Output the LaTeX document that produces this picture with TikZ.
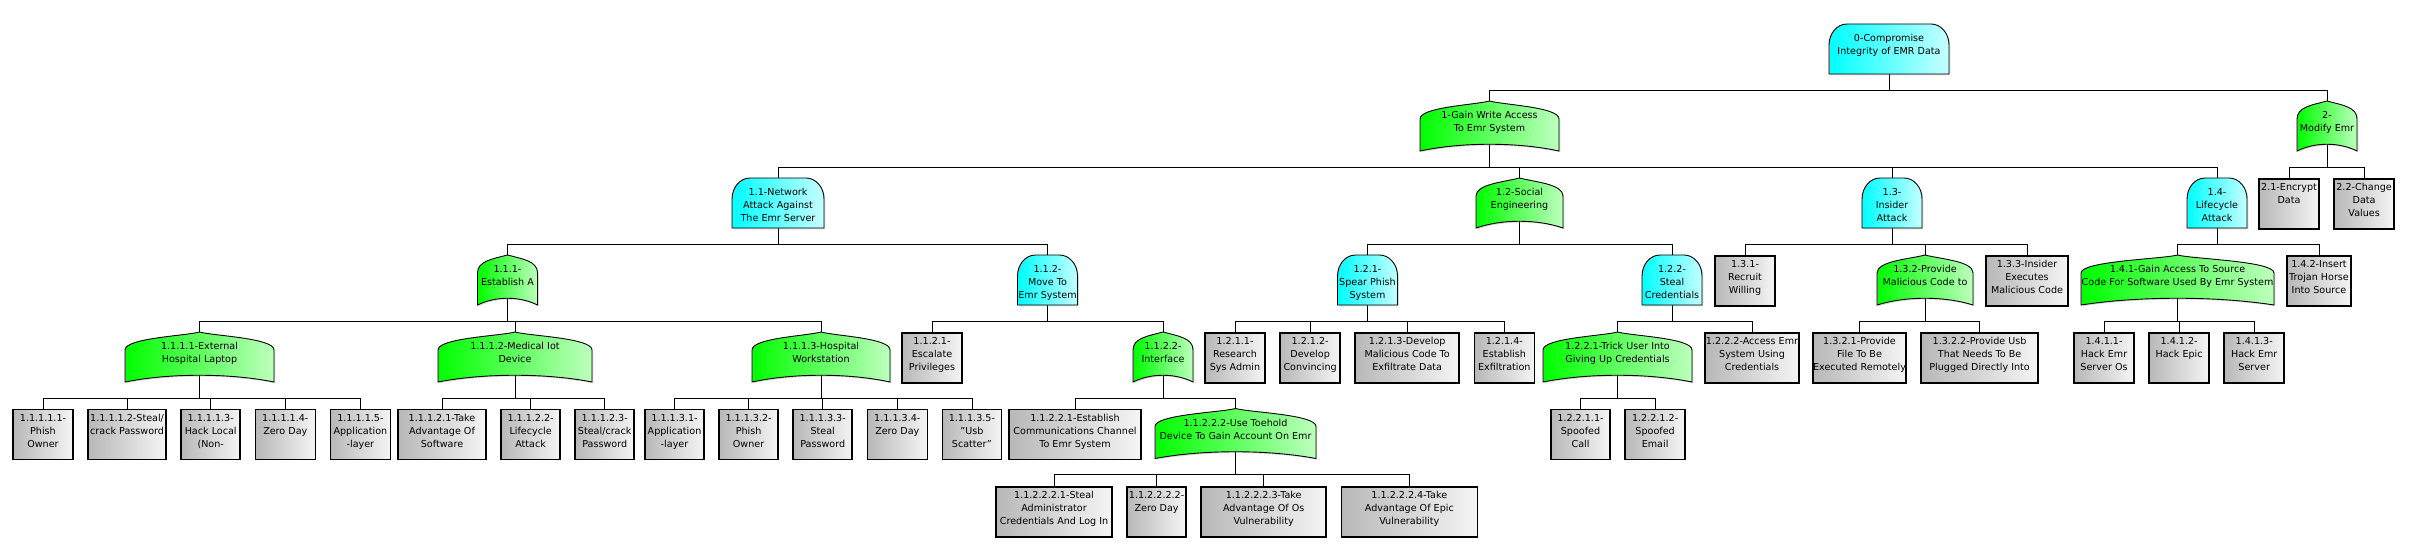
\documentclass[tikz,border=0pt]{standalone}
\usepackage{fontspec}
\setmainfont{DejaVu Sans}
\usetikzlibrary{positioning,calc,shadows}
\pgfdeclarelayer{edges}
\pgfdeclarelayer{shapes}
\pgfsetlayers{edges,shapes,main}
\newcommand{\nodelines}[1]{\hbox to 0pt{\hss\begin{tabular}[t]{@{}c@{}}#1\end{tabular}\hss}}
\begin{document}
\begin{tikzpicture}[x=1pt,y=1pt,node distance=13.5pt,
		font=\fontsize{9.6}{13}\selectfont,
		gate node/.style={rectangle,outer sep=0pt,inner sep=2pt,minimum height=50pt,
			text height=15.5pt,text depth=30.5pt,anchor=north},
		leaf node/.style={rectangle,draw,line width=1.6pt,left color=black!28,right color=black!4,
			inner sep=2pt,minimum height=50pt,text height=10pt,text depth=36pt,anchor=north},
		gate shadow/.style={drop shadow={shadow xshift=1.3pt,shadow yshift=-1.3pt,opacity=0.3}},
		or shape/.style={draw,line width=0.9pt,gate shadow,left color=cyan,right color=cyan!22},
		and shape/.style={draw,line width=0.9pt,gate shadow,left color=green,right color=green!25},
		tree edge/.style={draw,line width=0.8pt,
			to path={(\tikztostart.center) -- ($(\tikztostart.south)+(0,-16)$) -| (\tikztotarget.north)}}]
		
		\useasboundingbox (0,0) rectangle (2424,-556);
		
		\node[gate node,minimum width=120pt] (n0) at (1889,-24) {\nodelines{0-Compromise\\Integrity of EMR Data}};
		
		\node[gate node,minimum width=139pt] (n1) at (1489.5,-101) {\nodelines{1-Gain Write Access\\To Emr System}};
		\node[gate node,minimum width=60pt] (n2) at (2327,-101) {\nodelines{2-\\Modify Emr}};
		
		\node[gate node,minimum width=92pt] (n11) at (778,-178) {\nodelines{1.1-Network\\Attack Against\\The Emr Server}};
		\node[gate node,minimum width=87pt] (n12) at (1519.5,-178) {\nodelines{1.2-Social\\Engineering}};
		\node[gate node,minimum width=60pt] (n13) at (1892,-178) {\nodelines{1.3-\\Insider\\Attack}};
		\node[gate node,minimum width=60pt] (n14) at (2217,-178) {\nodelines{1.4-\\Lifecycle\\Attack}};
		\node[leaf node,minimum width=60pt] (n21) at (2289,-178) {\nodelines{2.1-Encrypt\\Data}};
		\node[leaf node,minimum width=60pt,right=of n21] (n22) {\nodelines{2.2-Change\\Data\\Values}};
		
		\node[gate node,minimum width=60pt] (n111) at (507.5,-255) {\nodelines{1.1.1-\\Establish A}};
		\node[gate node,minimum width=60pt] (n112) at (1047.5,-255) {\nodelines{1.1.2-\\Move To\\Emr System}};
		\node[gate node,minimum width=60pt] (n121) at (1367.5,-255) {\nodelines{1.2.1-\\Spear Phish\\System}};
		\node[gate node,minimum width=60pt] (n122) at (1672,-255) {\nodelines{1.2.2-\\Steal\\Credentials}};
		\node[leaf node,minimum width=60pt] (n131) at (1745,-255) {\nodelines{1.3.1-\\Recruit\\Willing}};
		\node[gate node,minimum width=96pt] (n132) at (1925,-255) {\nodelines{1.3.2-Provide\\Malicious Code to}};
		\node[leaf node,minimum width=82pt] (n133) at (2027,-255) {\nodelines{1.3.3-Insider\\Executes\\Malicious Code}};
		\node[gate node,minimum width=193pt] (n141) at (2177.5,-255) {\nodelines{1.4.1-Gain Access To Source\\Code For Software Used By Emr System}};
		\node[leaf node,minimum width=64pt] (n142) at (2319,-255) {\nodelines{1.4.2-Insert\\Trojan Horse\\Into Source}};
		
		\node[gate node,minimum width=149pt] (n1111) at (199.5,-332) {\nodelines{1.1.1.1-External\\Hospital Laptop}};
		\node[gate node,minimum width=154pt] (n1112) at (515,-332) {\nodelines{1.1.1.2-Medical Iot\\Device}};
		\node[gate node,minimum width=138pt] (n1113) at (821,-332) {\nodelines{1.1.1.3-Hospital\\Workstation}};
		\node[leaf node,minimum width=60pt] (n1121) at (932,-332) {\nodelines{1.1.2.1-\\Escalate\\Privileges}};
		\node[gate node,minimum width=60pt] (n1122) at (1163,-332) {\nodelines{1.1.2.2-\\Interface}};
		\node[leaf node,minimum width=60pt] (n1211) at (1235,-332) {\nodelines{1.2.1.1-\\Research\\Sys Admin}};
		\node[leaf node,minimum width=60pt,right=of n1211] (n1212) {\nodelines{1.2.1.2-\\Develop\\Convincing}};
		\node[leaf node,minimum width=104pt,right=of n1212] (n1213) {\nodelines{1.2.1.3-Develop\\Malicious Code To\\Exfiltrate Data}};
		\node[leaf node,minimum width=60pt,right=of n1213] (n1214) {\nodelines{1.2.1.4-\\Establish\\Exfiltration}};
		\node[gate node,minimum width=149pt] (n1221) at (1617.5,-332) {\nodelines{1.2.2.1-Trick User Into\\Giving Up Credentials}};
		\node[leaf node,minimum width=94pt] (n1222) at (1752,-332) {\nodelines{1.2.2.2-Access Emr\\System Using\\Credentials}};
		\node[leaf node,minimum width=93pt] (n1321) at (1859.5,-332) {\nodelines{1.3.2.1-Provide\\File To Be\\Executed Remotely}};
		\node[leaf node,minimum width=117pt,right=of n1321] (n1322) {\nodelines{1.3.2.2-Provide Usb\\That Needs To Be\\Plugged Directly Into}};
		\node[leaf node,minimum width=60pt] (n1411) at (2104,-332) {\nodelines{1.4.1.1-\\Hack Emr\\Server Os}};
		\node[leaf node,minimum width=60pt,right=of n1411] (n1412) {\nodelines{1.4.1.2-\\Hack Epic}};
		\node[leaf node,minimum width=60pt,right=of n1412] (n1413) {\nodelines{1.4.1.3-\\Hack Emr\\Server}};
		
		\node[leaf node,minimum width=60pt] (n11111) at (43,-408.5) {\nodelines{1.1.1.1.1-\\Phish\\Owner}};
		\node[leaf node,minimum width=78pt,right=of n11111] (n11112) {\nodelines{1.1.1.1.2-Steal/\\crack Password}};
		\node[leaf node,minimum width=59pt,right=of n11112] (n11113) {\nodelines{1.1.1.1.3-\\Hack Local\\(Non-}};
		\node[leaf node,minimum width=60pt,right=of n11113] (n11114) {\nodelines{1.1.1.1.4-\\Zero Day}};
		\node[leaf node,minimum width=60pt,right=of n11114] (n11115) {\nodelines{1.1.1.1.5-\\Application\\-layer}};
		\node[leaf node,minimum width=88pt] (n11121) at (442,-408.5) {\nodelines{1.1.1.2.1-Take\\Advantage Of\\Software}};
		\node[leaf node,minimum width=59pt,right=of n11121] (n11122) {\nodelines{1.1.1.2.2-\\Lifecycle\\Attack}};
		\node[leaf node,minimum width=59pt,right=of n11122] (n11123) {\nodelines{1.1.1.2.3-\\Steal/crack\\Password}};
		\node[leaf node,minimum width=59pt] (n11131) at (674.5,-408.5) {\nodelines{1.1.1.3.1-\\Application\\-layer}};
		\node[leaf node,minimum width=59pt,right=of n11131] (n11132) {\nodelines{1.1.1.3.2-\\Phish\\Owner}};
		\node[leaf node,minimum width=59pt,right=of n11132] (n11133) {\nodelines{1.1.1.3.3-\\Steal\\Password}};
		\node[leaf node,minimum width=60pt,right=of n11133] (n11134) {\nodelines{1.1.1.3.4-\\Zero Day}};
		\node[leaf node,minimum width=59pt,right=of n11134] (n11135) {\nodelines{1.1.1.3.5-\\"Usb\\Scatter"}};
		\node[leaf node,minimum width=132pt] (n11221) at (1075,-408.5) {\nodelines{1.1.2.2.1-Establish\\Communications Channel\\To Emr System}};
		\node[gate node,minimum width=161pt] (n11222) at (1235.5,-408.5) {\nodelines{1.1.2.2.2-Use Toehold\\Device To Gain Account On Emr}};
		\node[leaf node,minimum width=59pt] (n12211) at (1580.5,-408.5) {\nodelines{1.2.2.1.1-\\Spoofed\\Call}};
		\node[leaf node,minimum width=60pt,right=of n12211] (n12212) {\nodelines{1.2.2.1.2-\\Spoofed\\Email}};
		
		\node[leaf node,minimum width=116pt] (n112221) at (1054,-486) {\nodelines{1.1.2.2.2.1-Steal\\Administrator\\Credentials And Log In}};
		\node[leaf node,minimum width=59pt,right=of n112221] (n112222) {\nodelines{1.1.2.2.2.2-\\Zero Day}};
		\node[leaf node,minimum width=125pt,right=of n112222] (n112223) {\nodelines{1.1.2.2.2.3-Take\\Advantage Of Os\\Vulnerability}};
		\node[leaf node,minimum width=136pt,right=of n112223] (n112224) {\nodelines{1.1.2.2.2.4-Take\\Advantage Of Epic\\Vulnerability}};
		
		\begin{pgfonlayer}{shapes}
		\foreach \g in {n0,n11,n13,n14,n112,n121,n122}
			\path[or shape] (\g.south west) -- ([yshift=-21pt]\g.north west)
				arc[start angle=180,end angle=90,x radius=18pt,y radius=21pt] -- ([xshift=-18pt]\g.north east)
				arc[start angle=90,end angle=0,x radius=18pt,y radius=21pt] -- (\g.south east) -- cycle;
		\foreach \g in {n1,n2,n12,n111,n132,n141,n1111,n1112,n1113,n1122,n1221,n11222}
			\path[and shape] let \p1=($(\g.east)-(\g.west)$) in
				(\g.south west) -- ([yshift=-18pt]\g.north west)
				.. controls +(0,12pt) and +(-15pt,-4pt) .. (\g.north)
				.. controls +(15pt,-4pt) and +(0,12pt) .. ([yshift=-18pt]\g.north east) -- (\g.south east)
				.. controls +(-0.3*\x1,9pt) and +(0.3*\x1,9pt) .. (\g.south west) -- cycle;
		\end{pgfonlayer}
		
		\begin{pgfonlayer}{edges}
		\path[every edge/.style={tree edge}]
		(n0) edge (n1) edge (n2)
		(n1) edge (n11) edge (n12) edge (n13) edge (n14)
		(n2) edge (n21) edge (n22)
		(n11) edge (n111) edge (n112)
		(n12) edge (n121) edge (n122)
		(n13) edge (n131) edge (n132) edge (n133)
		(n14) edge (n141) edge (n142)
		(n111) edge (n1111) edge (n1112) edge (n1113)
		(n112) edge (n1121) edge (n1122)
		(n121) edge (n1211) edge (n1212) edge (n1213) edge (n1214)
		(n122) edge (n1221) edge (n1222)
		(n132) edge (n1321) edge (n1322)
		(n141) edge (n1411) edge (n1412) edge (n1413)
		(n1111) edge (n11111) edge (n11112) edge (n11113) edge (n11114) edge (n11115)
		(n1112) edge (n11121) edge (n11122) edge (n11123)
		(n1113) edge (n11131) edge (n11132) edge (n11133) edge (n11134) edge (n11135)
		(n1122) edge (n11221) edge (n11222)
		(n1221) edge (n12211) edge (n12212)
		(n11222) edge (n112221) edge (n112222) edge (n112223) edge (n112224);
		\end{pgfonlayer}
\end{tikzpicture}
\end{document}
